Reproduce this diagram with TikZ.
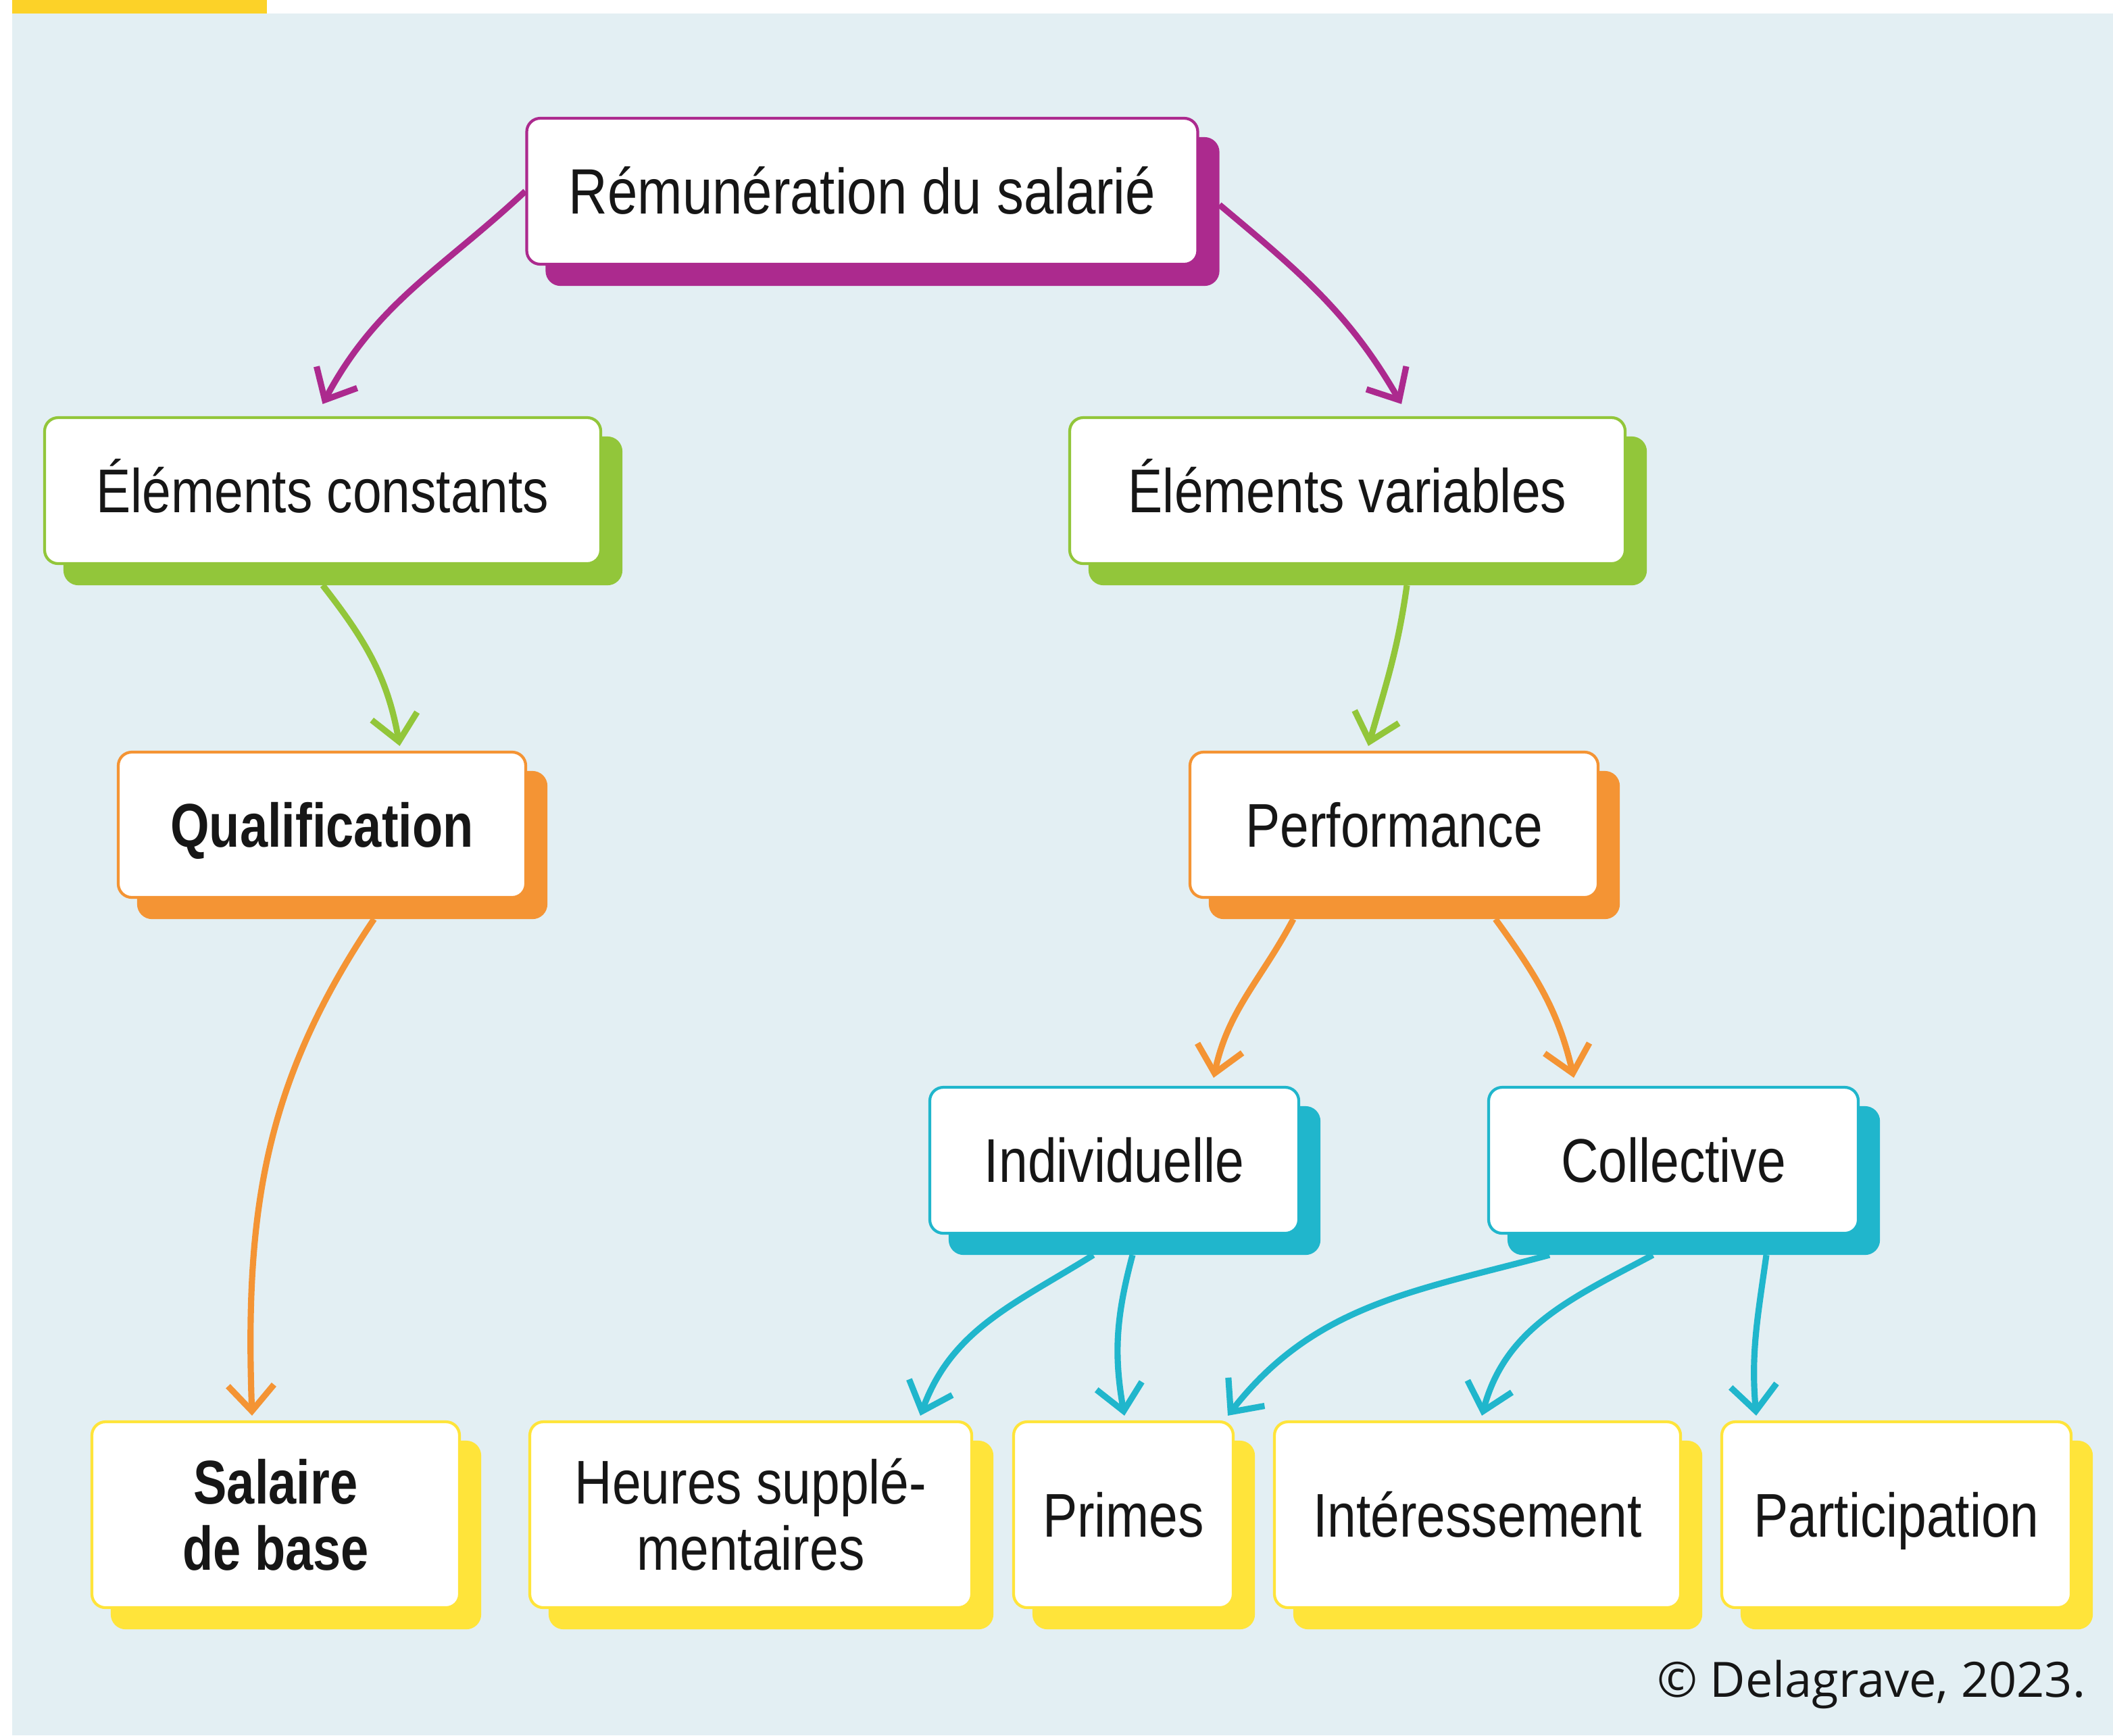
\documentclass[tikz,border=0pt]{standalone}
\usepackage{fontspec}
\setmainfont{Liberation Sans}
\newfontfamily\nodefont[FakeStretch=0.84]{Liberation Sans}
\newfontfamily\boldnodefont[FakeStretch=0.81]{Liberation Sans}
\newfontfamily\copyfont{Open Sans}
\usetikzlibrary{arrows.meta,shadows,calc}

\definecolor{bgblue}{RGB}{227,239,243}
\definecolor{topyellow}{RGB}{252,210,40}
\definecolor{cmag}{RGB}{172,42,142}
\definecolor{cgreen}{RGB}{146,198,58}
\definecolor{corange}{RGB}{244,148,52}
\definecolor{ccyan}{RGB}{32,182,204}
\definecolor{cyellow}{RGB}{255,228,58}
\definecolor{txt}{RGB}{22,22,22}

\tikzset{
  box/.style={draw=#1, fill=white, line width=1.2pt, rounded corners=0.2cm,
    align=center, inner sep=0pt, text=txt,
    font=\nodefont\fontsize{26}{28}\selectfont,
    copy shadow={shadow xshift=0.3cm, shadow yshift=-0.3cm, fill=#1, draw=#1}},
  oneline/.style={text height=18.6pt, text depth=0pt},
  boldtext/.style={font=\boldnodefont\bfseries\fontsize{26}{28}\selectfont},
  titletext/.style={font=\nodefont\fontsize{27}{29}\selectfont, text height=19.3pt, text depth=0pt},
  conn/.style={draw=#1, line width=2.6pt,
    -{Straight Barb[length=3.8mm,width=6.8mm]}},
}

\begin{document}
\begin{tikzpicture}
\useasboundingbox (0,0) rectangle (31.27,-25.68);
\fill[white] (0,0) rectangle (31.27,-25.68);
\fill[bgblue] (0.18,-0.2) rectangle (31.27,-25.68);
\fill[topyellow] (0.18,0) rectangle (3.95,-0.2);

% nodes
\node[box=cmag, titletext, minimum width=9.93cm, minimum height=2.16cm] (rem) at (12.76,-2.83) {Rémunération du salarié};
\node[box=cgreen, oneline, minimum width=8.23cm, minimum height=2.16cm] (ec) at (4.775,-7.26) {Éléments constants};
\node[box=cgreen, oneline, minimum width=8.22cm, minimum height=2.16cm] (ev) at (19.94,-7.26) {Éléments variables};
\node[box=corange, boldtext, oneline, minimum width=6.03cm, minimum height=2.15cm] (qual) at (4.765,-12.205) {Qualification};
\node[box=corange, oneline, minimum width=6.04cm, minimum height=2.15cm] (perf) at (20.63,-12.205) {Performance};
\node[box=ccyan, oneline, minimum width=5.46cm, minimum height=2.16cm] (ind) at (16.49,-17.17) {Individuelle};
\node[box=ccyan, oneline, minimum width=5.47cm, minimum height=2.16cm] (col) at (24.765,-17.17) {Collective};
\node[box=cyellow, boldtext, minimum width=5.44cm, minimum height=2.75cm] (sal) at (4.08,-22.415) {Salaire\\de base};
\node[box=cyellow, minimum width=6.54cm, minimum height=2.75cm] (heu) at (11.11,-22.415) {Heures supplé-\\mentaires};
\node[box=cyellow, oneline, minimum width=3.25cm, minimum height=2.75cm] (pri) at (16.625,-22.415) {Primes};
\node[box=cyellow, oneline, minimum width=6.01cm, minimum height=2.75cm] (int) at (21.865,-22.415) {Intéressement};
\node[box=cyellow, oneline, minimum width=5.17cm, minimum height=2.75cm] (par) at (28.065,-22.415) {Participation};

\node[font=\copyfont\fontsize{20.5}{24}\selectfont, text=txt, anchor=base east, inner sep=0pt] (copy) at (30.87,-25.11) {© Delagrave, 2023.};

% connectors
\draw[conn=cmag] (rem.west) to[out=223,in=62] ($(ec.north)+(0,0.18)$);
\draw[conn=cmag] ($(rem.east)+(0.3,-0.2)$) to[out=-40,in=120] ($(ev.north)+(0.8,0.18)$);
\draw[conn=cgreen] ($(ec.south)+(0,-0.3)$) to[out=-52,in=100] ($(qual.north)+(1.15,0.07)$);
\draw[conn=cgreen] ($(ev.south)+(0.88,-0.3)$) to[out=-98,in=74] ($(perf.north)+(-0.38,0.07)$);
\draw[conn=corange] ($(qual.south)+(0.77,-0.3)$) to[out=236,in=92] ($(sal.north)+(-0.35,0.07)$);
\draw[conn=corange] ($(perf.south)+(-1.49,-0.3)$) to[out=242,in=78] ($(ind.north)+(1.47,0.12)$);
\draw[conn=corange] ($(perf.south)+(1.50,-0.3)$) to[out=-54,in=103] ($(col.north)+(-1.475,0.12)$);
\draw[conn=ccyan] ($(ind.south)+(-0.31,-0.3)$) to[out=212,in=70] ($(heu.north)+(2.51,0.07)$);
\draw[conn=ccyan] ($(ind.south)+(0.27,-0.3)$) to[out=255,in=100] ($(pri.north)+(0.015,0.07)$);
\draw[conn=ccyan] ($(col.south)+(-1.835,-0.3)$) to[out=195,in=52] ($(pri.north)+(1.545,0.07)$);
\draw[conn=ccyan] ($(col.south)+(-0.305,-0.3)$) to[out=208,in=75] ($(int.north)+(0.065,0.07)$);
\draw[conn=ccyan] ($(col.south)+(1.375,-0.3)$) to[out=262,in=95] ($(par.north)+(-2.075,0.07)$);
\end{tikzpicture}
\end{document}
